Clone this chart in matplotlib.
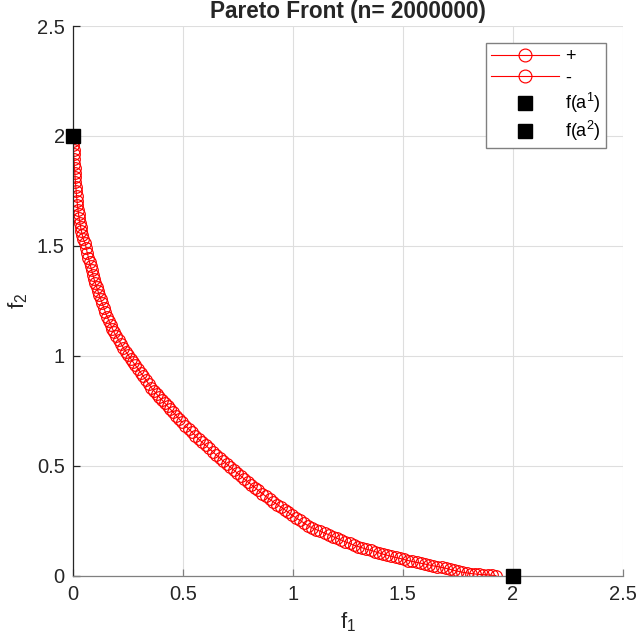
import numpy as np
import matplotlib
matplotlib.use("Agg")
import matplotlib.pyplot as plt
from matplotlib.ticker import MultipleLocator, FuncFormatter

plt.rcParams['font.family'] = ['Liberation Sans', 'DejaVu Sans']

# ==== data ====
f1_plus = [0.0000, 0.0005, 0.0013, 0.0022, 0.0032, 0.0043, 0.0055, 0.0068, 0.0081, 0.0095,
           0.0110, 0.0126, 0.0143, 0.0161, 0.0181, 0.0202, 0.0225, 0.0250, 0.0278, 0.0310,
           0.0345, 0.0382, 0.0425, 0.0470,
           0.055, 0.060, 0.065, 0.070, 0.075, 0.080, 0.085, 0.090, 0.095, 0.101, 0.107,
           0.113, 0.119, 0.126, 0.133, 0.140, 0.147, 0.155, 0.163, 0.171, 0.179, 0.187,
           0.197, 0.207, 0.218, 0.229, 0.240, 0.251, 0.262, 0.273, 0.284, 0.296, 0.308,
           0.320, 0.332, 0.344, 0.356, 0.368, 0.380, 0.392, 0.404, 0.417, 0.430, 0.443,
           0.456, 0.469, 0.482, 0.496]
f2_plus = [2.000, 1.979, 1.958, 1.937, 1.916, 1.895, 1.874, 1.853, 1.832, 1.811,
           1.790, 1.769, 1.748, 1.727, 1.706, 1.685, 1.665, 1.645, 1.625, 1.605,
           1.586, 1.567, 1.548, 1.530,
           1.512, 1.489, 1.467, 1.446, 1.425, 1.406, 1.388, 1.369, 1.351, 1.331, 1.313,
           1.295, 1.277, 1.257, 1.238, 1.218, 1.198, 1.178, 1.159, 1.141, 1.123, 1.106,
           1.089, 1.072, 1.054, 1.036, 1.019, 1.003, 0.987, 0.971, 0.956, 0.940, 0.923,
           0.906, 0.889, 0.872, 0.855, 0.840, 0.826, 0.812, 0.799, 0.785, 0.770, 0.756,
           0.742, 0.728, 0.713, 0.697]

f1_minus = [0.511, 0.526, 0.541, 0.556, 0.571, 0.587, 0.603, 0.619, 0.635, 0.651, 0.667,
            0.683, 0.699, 0.715, 0.731, 0.747, 0.763, 0.779, 0.795, 0.811, 0.827, 0.843,
            0.860, 0.877, 0.894, 0.911, 0.928, 0.945, 0.962, 0.979, 0.996, 1.013, 1.030,
            1.049, 1.068, 1.087, 1.106, 1.125, 1.144, 1.163, 1.182, 1.201, 1.220, 1.239,
            1.258, 1.277, 1.296, 1.315, 1.334, 1.353, 1.372, 1.391, 1.410, 1.429, 1.448,
            1.467, 1.486, 1.505, 1.524, 1.543, 1.562, 1.581, 1.600, 1.619, 1.638, 1.657,
            1.676, 1.695, 1.714, 1.733, 1.752, 1.771, 1.790, 1.809, 1.828, 1.847, 1.866,
            1.885, 1.904, 1.923]
f2_minus = [0.681, 0.667, 0.652, 0.637, 0.621, 0.606, 0.592, 0.578, 0.563, 0.549, 0.535,
            0.521, 0.507, 0.493, 0.480, 0.466, 0.453, 0.439, 0.426, 0.413, 0.400, 0.387,
            0.373, 0.360, 0.347, 0.335, 0.323, 0.312, 0.300, 0.287, 0.275, 0.263, 0.252,
            0.240, 0.227, 0.217, 0.209, 0.201, 0.193, 0.186, 0.177, 0.169, 0.161, 0.153,
            0.146, 0.138, 0.132, 0.126, 0.120, 0.115, 0.109, 0.103, 0.097, 0.092, 0.087,
            0.082, 0.078, 0.073, 0.068, 0.064, 0.060, 0.056, 0.052, 0.048, 0.044, 0.041,
            0.037, 0.033, 0.028, 0.023, 0.019, 0.015, 0.012, 0.009, 0.007, 0.005, 0.004,
            0.003, 0.001, 0.000]

a1_point = (0.0, 2.0)
a2_point = (2.0, 0.0)
n_dim = 2000000

# ==== plot ====
fig = plt.figure(figsize=(6.4, 6.36), dpi=100)
ax = fig.add_axes([0.1141, 0.0951, 0.859, 0.864])

ax.plot(f1_plus, f2_plus, '-o', color='red', mfc='none', mec='red',
        ms=8.4, mew=0.85, lw=0.8, label='+')
ax.plot(f1_minus, f2_minus, '-o', color='red', mfc='none', mec='red',
        ms=8.4, mew=0.85, lw=0.8, label='-')
ax.plot(*a1_point, 's', color='black', ms=9.6, clip_on=False, zorder=5,
        label=r'f(a$^{\mathregular{1}}$)')
ax.plot(*a2_point, 's', color='black', ms=9.6, clip_on=False, zorder=5,
        label=r'f(a$^{\mathregular{2}}$)')

ax.set_xlim(0, 2.5)
ax.set_ylim(0, 2.5)
ax.xaxis.set_major_locator(MultipleLocator(0.5))
ax.yaxis.set_major_locator(MultipleLocator(0.5))
fmt = FuncFormatter(lambda v, p: f"{v:g}")
ax.xaxis.set_major_formatter(fmt)
ax.yaxis.set_major_formatter(fmt)

ax.grid(True, color='#dedede', linewidth=0.8)
ax.set_axisbelow(True)
for s in ['top', 'right']:
    ax.spines[s].set_visible(False)
ax.spines['left'].set_color('#262626')
ax.spines['bottom'].set_color('#808080')
ax.spines['left'].set_linewidth(0.9)
ax.spines['bottom'].set_linewidth(0.9)
ax.tick_params(direction='in', length=5, width=0.9, labelsize=14.5,
               labelcolor='#262626')
ax.tick_params(axis='x', color='#808080', pad=7)
ax.tick_params(axis='y', color='#262626', pad=6)

ax.set_xlabel(r'$\mathregular{f_1}$', fontsize=16, color='#262626', labelpad=4.5)
ax.set_ylabel(r'$\mathregular{f_2}$', fontsize=16, color='#262626', labelpad=5)
ax.set_title(f'Pareto Front (n= {n_dim})', fontsize=16.3, fontweight='bold',
             color='#262626', pad=6)

leg = ax.legend(loc='upper right', bbox_to_anchor=(0.969, 0.969), borderaxespad=0,
                fontsize=13, handlelength=3.75, handletextpad=0.35, labelspacing=0.24,
                borderpad=0.28, markerscale=1.1, fancybox=False, framealpha=1)
leg.get_frame().set_edgecolor('#808080')
leg.get_frame().set_linewidth(1.0)

fig.savefig('out.png', dpi=100)
